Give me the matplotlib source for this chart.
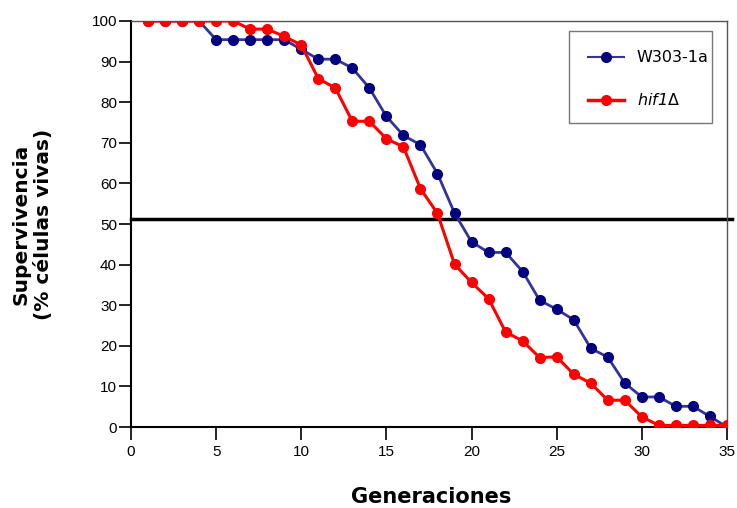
import matplotlib
matplotlib.use('Agg')
from matplotlib import pyplot as plt
from matplotlib.patches import Rectangle

generaciones = list(range(1, 36))

# W303-1a
w303 = [100, 100, 100, 100, 95.4, 95.4, 95.4, 95.4, 95.4, 93.0,
        90.6, 90.6, 88.4, 83.5, 76.5, 71.8, 69.5, 62.4, 52.7, 45.6,
        43.0, 43.0, 38.3, 31.2, 29.0, 26.4, 19.4, 17.2, 10.8, 7.4,
        7.4, 5.1, 5.1, 2.6, 0.0]

# hif1 delta
hif1 = [100, 100, 100, 100, 100, 100, 98.0, 98.0, 96.2, 94.1,
        85.8, 83.5, 75.3, 75.3, 71.0, 69.0, 58.7, 52.6, 40.1, 35.6,
        31.6, 23.4, 21.2, 17.1, 17.3, 13.0, 10.8, 6.6, 6.6, 2.5,
        0.4, 0.4, 0.4, 0.4, 0.4]

umbral = 51.2

tick_font = ['Liberation Sans', 'DejaVu Sans']

fig = plt.figure(figsize=(7.37, 5.08), dpi=100)
ax = fig.add_axes([0.1777, 0.1594, 0.8087, 0.7993])

ax.plot(generaciones, w303, color='#33339a', lw=2, marker='o', ms=7,
        mfc='#000080', mec='#000080', label='W303-1a', zorder=3)
ax.plot(generaciones, hif1, color='#ff0000', lw=2.2, marker='o', ms=7,
        mfc='#ff0000', mec='#ff0000', label='hif1$\\Delta$', zorder=4)
ax.plot([0, 35.3], [umbral, umbral], color='black', lw=2.5, clip_on=False, zorder=2)

ax.set_xlim(0, 35)
ax.set_ylim(0, 100)
ax.set_xticks(range(0, 36, 5))
ax.set_yticks(range(0, 101, 10))

for s in ['left', 'bottom']:
    ax.spines[s].set_color('black')
    ax.spines[s].set_linewidth(1.5)
for s in ['top', 'right']:
    ax.spines[s].set_color('#555555')
    ax.spines[s].set_linewidth(1)

ax.tick_params(direction='out', length=9, width=1.2, colors='black', labelsize=11)
ax.tick_params(axis='x', pad=4)
ax.tick_params(axis='y', pad=1)
for lab in ax.get_xticklabels() + ax.get_yticklabels():
    lab.set_fontfamily(tick_font)

ax.set_xlabel('Generaciones', fontsize=15, fontweight='bold', va='center')
ax.xaxis.set_label_coords(0.503, -0.172)
ax.set_ylabel('Supervivencia\n(% células vivas)', fontsize=14.5, fontweight='bold',
              linespacing=1.2)
ax.yaxis.set_label_coords(-0.131, 0.5)

# legend box drawn by hand, entries without frame
ax.add_patch(Rectangle((0.7349, 0.7488), 0.2399, 0.2266, transform=ax.transAxes,
                       facecolor='white', edgecolor='#777777', lw=1, zorder=5))
leg = ax.legend(loc='upper left', bbox_to_anchor=(0.7668, 0.928), fontsize=11.5,
                frameon=False, borderpad=0, borderaxespad=0, labelspacing=1.7,
                handlelength=2.25, handletextpad=0.8)
leg.set_zorder(6)
leg.get_lines()[0].set_linewidth(1.5)
leg.get_lines()[1].set_linewidth(2.5)
leg.get_texts()[1].set_fontstyle('italic')

fig.savefig('out.png', dpi=100)
